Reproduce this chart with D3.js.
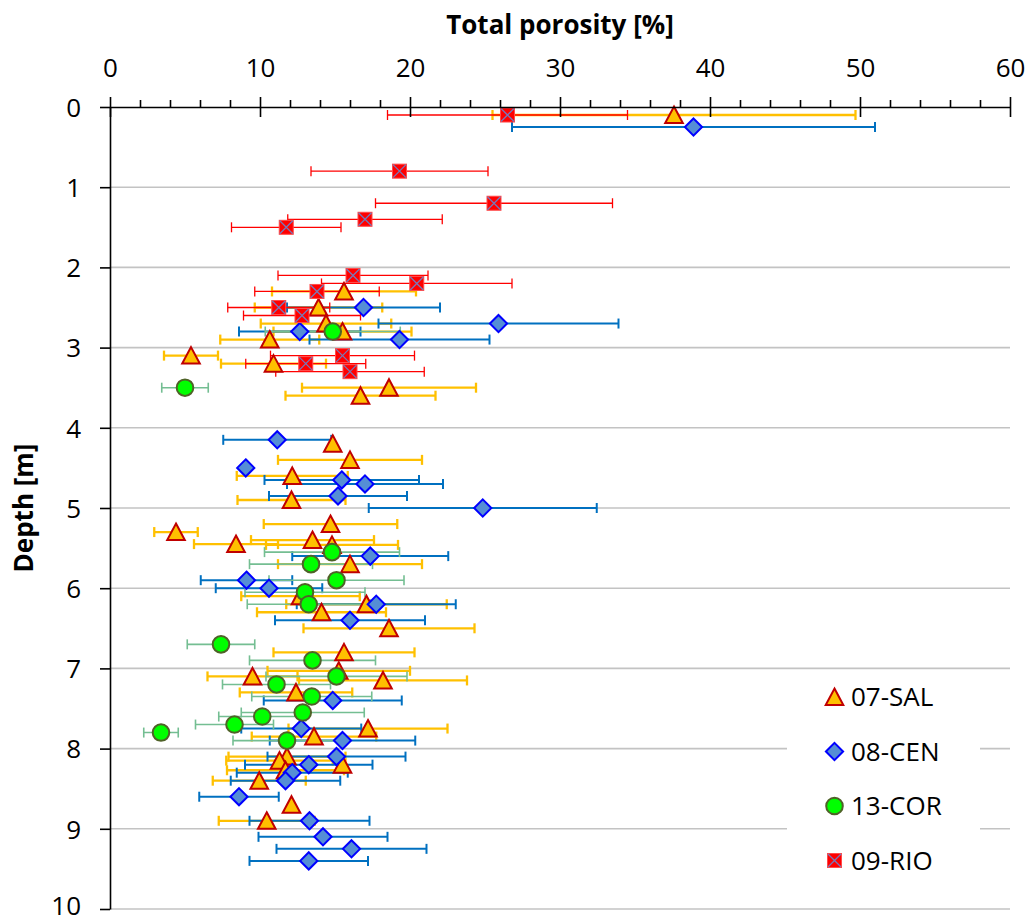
<!DOCTYPE html>
<html>
<head>
<meta charset="utf-8">
<script src="https://cdn.jsdelivr.net/npm/d3@7"></script>
<style>
  html, body { margin: 0; padding: 0; background: #fff; }
  svg { display: block; font-family: "Open Sans", sans-serif; }
</style>
</head>
<body>
<svg id="chart" width="1029" height="920"></svg>
<script>
// ---- Data (depth [m], total porosity [%], error [%]) ----
const xTickValues = [0, 10, 20, 30, 40, 50, 60];
const yTickValues = [0, 1, 2, 3, 4, 5, 6, 7, 8, 9, 10];
const seriesNames = ["07-SAL", "08-CEN", "13-COR", "09-RIO"];

const salDepth = [0.1, 2.3, 2.5, 2.7, 2.8, 2.9, 3.1, 3.2, 3.5, 3.6, 4.2, 4.4, 4.6, 4.9, 5.2, 5.3, 5.4, 5.45, 5.46, 5.7,
  6.1, 6.2, 6.3, 6.5, 6.8, 7.03, 7.1, 7.15, 7.3, 7.75, 7.85, 8.1, 8.15, 8.2, 8.27, 8.4, 8.7, 8.9];
const salPorosity = [37.6, 15.6, 13.9, 14.4, 15.5, 10.65, 5.4, 10.9, 18.6, 16.7, 14.85, 16.0, 12.15, 12.1, 14.7, 4.4, 13.5, 8.4, 14.8, 16.0,
  12.7, 17.1, 14.1, 18.6, 15.6, 15.25, 9.5, 18.2, 12.4, 17.2, 13.6, 11.8, 11.3, 15.5, 11.7, 9.95, 12.1, 10.45];
const salError = [12.1, 4.8, 4.25, 4.35, 4.6, 3.3, 1.8, 3.5, 5.8, 5.0, 0, 4.8, 3.7, 3.6, 4.45, 1.45, 4.1, 2.8, 4.4, 4.8,
  3.95, 5.35, 4.3, 5.7, 4.7, 4.75, 3.0, 5.6, 3.75, 5.3, 4.15, 3.9, 3.55, 0, 3.9, 3.1, 0, 3.2];

const cenDepth = [0.25, 2.5, 2.7, 2.8, 2.9, 4.15, 4.5, 4.65, 4.7, 4.85, 5.0, 5.6, 5.9, 6.0, 6.2, 6.4,
  7.4, 7.75, 7.9, 8.1, 8.2, 8.3, 8.4, 8.6, 8.9, 9.1, 9.25, 9.4];
const cenPorosity = [38.9, 16.9, 25.9, 12.65, 19.3, 11.15, 9.05, 15.45, 17.0, 15.2, 24.85, 17.35, 9.1, 10.6, 17.75, 16.0,
  14.85, 12.75, 15.5, 15.1, 13.25, 12.15, 11.7, 8.6, 13.3, 14.2, 16.1, 13.25];
const cenError = [12.1, 5.1, 8.0, 4.05, 6.0, 3.6, 0, 5.15, 5.2, 4.6, 7.6, 5.2, 3.05, 3.55, 5.3, 5.0,
  4.6, 4.0, 4.85, 4.6, 4.25, 3.7, 3.65, 2.65, 4.0, 4.3, 5.0, 3.95];

const corDepth = [2.8, 3.5, 5.55, 5.7, 5.9, 6.05, 6.2, 6.7, 6.9, 7.1, 7.2, 7.35, 7.55, 7.6, 7.7, 7.8, 7.9];
const corPorosity = [14.85, 5.0, 14.8, 13.4, 15.1, 13.0, 13.25, 7.4, 13.5, 15.1, 11.1, 13.45, 12.85, 10.15, 8.3, 3.4, 11.8];
const corError = [4.5, 1.55, 4.5, 4.1, 4.5, 4.0, 4.1, 2.25, 4.2, 4.7, 3.6, 4.0, 4.1, 2.9, 2.6, 1.15, 3.6];

const rioDepth = [0.1, 0.8, 1.2, 1.4, 1.5, 2.1, 2.2, 2.3, 2.5, 2.6, 3.1, 3.2, 3.3];
const rioPorosity = [26.5, 19.3, 25.6, 17.0, 11.75, 16.2, 20.45, 13.8, 11.25, 12.8, 15.5, 13.05, 16.0];
const rioError = [8.0, 5.9, 7.9, 5.15, 3.65, 5.0, 6.35, 4.15, 3.4, 3.9, 4.8, 4.0, 4.95];

// ---- Build ----
function rows(depths, values, errors) {
  return depths.map((d, i) => ({ depth: d, value: values[i], err: errors[i] }));
}
const series = [
  { name: seriesNames[0], data: rows(salDepth, salPorosity, salError), marker: "triangle", errColor: "#FFC000", errWidth: 2.3 },
  { name: seriesNames[1], data: rows(cenDepth, cenPorosity, cenError), marker: "diamond", errColor: "#0070C0", errWidth: 2 },
  { name: seriesNames[2], data: rows(corDepth, corPorosity, corError), marker: "circle", errColor: "#74BE92", errWidth: 1.6 },
  { name: seriesNames[3], data: rows(rioDepth, rioPorosity, rioError), marker: "square", errColor: "#FF0000", errWidth: 1.3 }
];

const svg = d3.select("#chart");
const x = d3.scaleLinear().domain([0, 60]).range([110, 1010]);
const y = d3.scaleLinear().domain([0, 10]).range([107, 909]);

// gridlines
svg.append("g").selectAll("line").data(yTickValues.filter(v => v > 0)).join("line")
  .attr("x1", x(0)).attr("x2", x(60))
  .attr("y1", d => y(d)).attr("y2", d => y(d))
  .attr("stroke", "#C3C3C3").attr("stroke-width", 1.6);

// marker drawing
function drawMarker(g, type) {
  if (type === "triangle") {
    g.append("path").attr("d", "M0,-8.5L8.8,8L-8.8,8Z")
      .attr("fill", "#FFC000").attr("stroke", "#C00000").attr("stroke-width", 2).attr("stroke-linejoin", "miter");
  } else if (type === "diamond") {
    g.append("path").attr("d", "M0,-8.6L8.6,0L0,8.6L-8.6,0Z")
      .attr("fill", "#558ED5").attr("stroke", "#0000FF").attr("stroke-width", 2);
  } else if (type === "circle") {
    g.append("circle").attr("r", 8.3)
      .attr("fill", "#00FF00").attr("stroke", "#4F6228").attr("stroke-width", 2);
  } else {
    g.append("rect").attr("x", -7).attr("y", -7).attr("width", 14).attr("height", 14)
      .attr("fill", "#FF0000").attr("stroke", "#FF4A4A").attr("stroke-width", 1);
    g.append("path").attr("d", "M-6.5,-6.5L6.5,6.5M6.5,-6.5L-6.5,6.5")
      .attr("stroke", "#7878B8").attr("stroke-width", 1.3);
  }
}

// error bars (all series first)
const eb = svg.append("g");
series.forEach(s => {
  const g = eb.append("g").attr("stroke", s.errColor).attr("stroke-width", s.errWidth);
  s.data.filter(d => d.err > 0).forEach(d => {
    const yy = y(d.depth), x1 = x(d.value - d.err), x2 = x(d.value + d.err);
    g.append("line").attr("x1", x1).attr("x2", x2).attr("y1", yy).attr("y2", yy);
    g.append("line").attr("x1", x1).attr("x2", x1).attr("y1", yy - 5).attr("y2", yy + 5);
    g.append("line").attr("x1", x2).attr("x2", x2).attr("y1", yy - 5).attr("y2", yy + 5);
  });
});

// markers
series.forEach(s => {
  const g = svg.append("g");
  g.selectAll("g").data(s.data).join("g")
    .attr("transform", d => `translate(${x(d.value)},${y(d.depth)})`)
    .each(function () { drawMarker(d3.select(this), s.marker); });
});

// top x axis
const xAxis = svg.append("g").attr("transform", `translate(0,${y(0)})`)
  .call(d3.axisTop(x).tickValues(xTickValues).tickSizeInner(10).tickSizeOuter(0).tickPadding(20));
xAxis.select(".domain").attr("stroke", "#000").attr("stroke-width", 1.6);
xAxis.selectAll(".tick line").attr("y1", 10).attr("y2", -10).attr("stroke", "#000").attr("stroke-width", 1.6);
xAxis.selectAll(".tick text").attr("font-size", 26).attr("font-family", "Open Sans").attr("fill", "#000")
  .attr("y", -30).attr("dy", 0);
const minorTicks = d3.range(0, 61, 2).filter(v => v % 10 !== 0);
svg.append("g").attr("transform", `translate(0,${y(0)})`)
  .call(d3.axisTop(x).tickValues(minorTicks).tickSizeInner(7).tickSizeOuter(0).tickFormat(""))
  .call(g => g.select(".domain").remove())
  .selectAll(".tick line").attr("stroke", "#000").attr("stroke-width", 1.6);

// left y axis
const yAxis = svg.append("g").attr("transform", `translate(${x(0)},0)`)
  .call(d3.axisLeft(y).tickValues(yTickValues).tickSizeInner(10).tickSizeOuter(0).tickPadding(19));
yAxis.select(".domain").attr("stroke", "#000").attr("stroke-width", 1.6);
yAxis.selectAll(".tick line").attr("stroke", "#000").attr("stroke-width", 1.6);
yAxis.selectAll(".tick text").attr("font-size", 26).attr("font-family", "Open Sans").attr("fill", "#000")
  .attr("dy", d => d === 10 ? "0.22em" : "0.36em");

// axis titles
svg.append("text").attr("x", (x(0) + x(60)) / 2).attr("y", 34)
  .attr("text-anchor", "middle").attr("font-size", 26).attr("font-weight", "bold")
  .text("Total porosity [%]");
svg.append("text").attr("transform", `translate(33,${(y(0) + y(10)) / 2}) rotate(-90)`)
  .attr("text-anchor", "middle").attr("font-size", 26).attr("font-weight", "bold")
  .text("Depth [m]");

// legend
const legend = svg.append("g");
legend.append("rect").attr("x", 787).attr("y", 670).attr("width", 193).attr("height", 236).attr("fill", "#fff");
series.forEach((s, i) => {
  const cy = 697 + i * 54.5;
  const g = legend.append("g").attr("transform", `translate(834.5,${cy})`);
  drawMarker(g, s.marker);
  legend.append("text").attr("x", 851).attr("y", cy).attr("dy", "0.36em")
    .attr("font-size", 26).attr("fill", "#000").text(s.name);
});
</script>
</body>
</html>
